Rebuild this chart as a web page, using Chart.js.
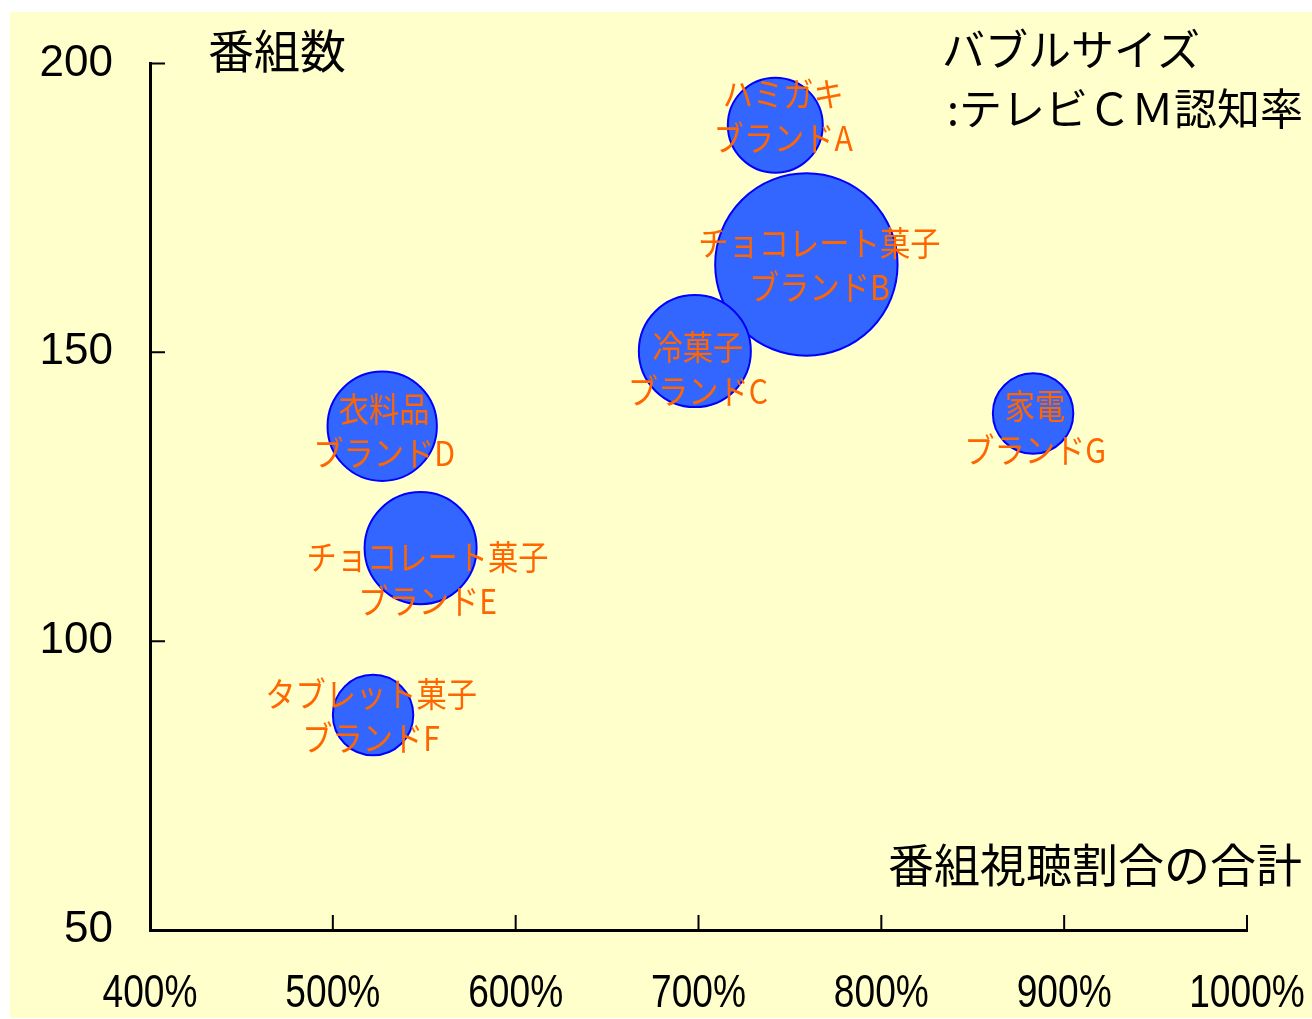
<!DOCTYPE html>
<html>
<head>
<meta charset="utf-8">
<script src="https://cdn.jsdelivr.net/npm/chart.js@4"></script>
<style>
  body { margin: 0; background: #ffffff; }
</style>
</head>
<body>
<canvas id="bubbleChart" width="1312" height="1019"></canvas>
<script>
// ブランド別データ
const brandNames = ['ハミガキ', 'チョコレート菓子', '冷菓子', '衣料品', 'チョコレート菓子', 'タブレット菓子', '家電'];
const brandIds = ['ブランドA', 'ブランドB', 'ブランドC', 'ブランドD', 'ブランドE', 'ブランドF', 'ブランドG'];
const viewShare = [742, 759, 698, 527, 548, 522, 883];      // 番組視聴割合の合計 (%)
const programCount = [189.3, 165.2, 150.2, 137.2, 116.1, 87.2, 139.4]; // 番組数
const cmAwareness = [23.5, 85, 32.5, 31, 32.5, 17, 17];     // テレビCM認知率
const xTicks = [400, 500, 600, 700, 800, 900, 1000];
const yTicks = [50, 100, 150, 200];

// label nudges (first line centre relative to bubble centre)
const labelShift = [[8, -31], [13, -21], [3, -4], [2, -17], [7, 9], [-2, -21], [2, -7]];

const points = viewShare.map((x, i) => ({
    x: x,
    y: programCount[i],
    r: 10 * Math.sqrt(cmAwareness[i]) - 1
}));

function narrowText(ctx, text, x, y, sx) {
    ctx.save();
    ctx.translate(x, y);
    ctx.scale(sx, 1);
    ctx.fillText(text, 0, 0);
    ctx.restore();
}

const decor = {
    id: 'decor',
    beforeDraw(chart) {
        const ctx = chart.ctx;
        ctx.save();
        ctx.fillStyle = '#ffffff';
        ctx.fillRect(0, 0, chart.width, chart.height);
        ctx.fillStyle = '#FFFFCC';
        ctx.fillRect(10, 12, chart.width - 10, chart.height - 13);
        ctx.restore();
    },
    afterDatasetsDraw(chart) {
        const ctx = chart.ctx;
        const meta = chart.getDatasetMeta(0);
        ctx.save();
        ctx.fillStyle = '#FF6600';
        ctx.font = '34px "Noto Sans CJK JP"';
        ctx.textAlign = 'center';
        ctx.textBaseline = 'middle';
        meta.data.forEach((el, i) => {
            const [dx, dy] = labelShift[i];
            narrowText(ctx, brandNames[i], el.x + dx, el.y + dy, 0.89);
            narrowText(ctx, brandIds[i], el.x + dx, el.y + dy + 44, 0.89);
        });
        ctx.restore();
    },
    afterDraw(chart) {
        const ctx = chart.ctx;
        const xs = chart.scales.x;
        const ys = chart.scales.y;
        const area = chart.chartArea;
        ctx.save();
        // inward tick marks
        ctx.strokeStyle = '#000000';
        ctx.lineWidth = 2;
        ctx.beginPath();
        yTicks.forEach(v => {
            const py = ys.getPixelForValue(v);
            ctx.moveTo(area.left, py);
            ctx.lineTo(area.left + 15, py);
        });
        xTicks.forEach(v => {
            const px = xs.getPixelForValue(v);
            ctx.moveTo(px, area.bottom);
            ctx.lineTo(px, area.bottom - 15);
        });
        ctx.stroke();

        // x tick labels, narrow
        ctx.fillStyle = '#000000';
        ctx.font = '47px "Liberation Sans"';
        ctx.textAlign = 'center';
        ctx.textBaseline = 'alphabetic';
        xTicks.forEach(v => {
            narrowText(ctx, v + '%', xs.getPixelForValue(v), 1007, 0.79);
        });

        // axis titles and note
        ctx.textAlign = 'left';
        ctx.textBaseline = 'middle';
        ctx.font = '46px "Noto Sans CJK JP"';
        ctx.fillText('番組数', 208, 51);
        ctx.fillText('番組視聴割合の合計', 888, 865);
        ctx.font = '43px "Noto Sans CJK JP"';
        ctx.fillText('バブルサイズ', 942, 50);
        ctx.fillText(':テレビＣＭ認知率', 947, 109);
        ctx.restore();
    }
};

new Chart(document.getElementById('bubbleChart'), {
    type: 'bubble',
    data: {
        datasets: [{
            data: points,
            backgroundColor: '#3366FF',
            borderColor: '#0000FF',
            borderWidth: 2,
            hoverRadius: 0
        }]
    },
    options: {
        responsive: false,
        animation: false,
        events: [],
        layout: {
            autoPadding: false,
            padding: { left: 0, top: 59, right: 65, bottom: 0 }
        },
        plugins: {
            legend: { display: false },
            tooltip: { enabled: false }
        },
        scales: {
            x: {
                type: 'linear',
                min: 400,
                max: 1000,
                afterFit: scale => { scale.height = 89; },
                afterBuildTicks: scale => { scale.ticks = xTicks.map(v => ({ value: v })); },
                grid: { display: false, drawTicks: false },
                border: { display: true, color: '#000000', width: 3 },
                ticks: { display: false }
            },
            y: {
                type: 'linear',
                min: 50,
                max: 200,
                afterFit: scale => { scale.width = 150; },
                afterBuildTicks: scale => { scale.ticks = yTicks.map(v => ({ value: v })); },
                grid: { display: false, drawTicks: false },
                border: { display: true, color: '#000000', width: 3 },
                ticks: {
                    color: '#000000',
                    padding: 37,
                    font: { family: '"Liberation Sans"', size: 44 }
                }
            }
        }
    },
    plugins: [decor]
});
</script>
</body>
</html>
